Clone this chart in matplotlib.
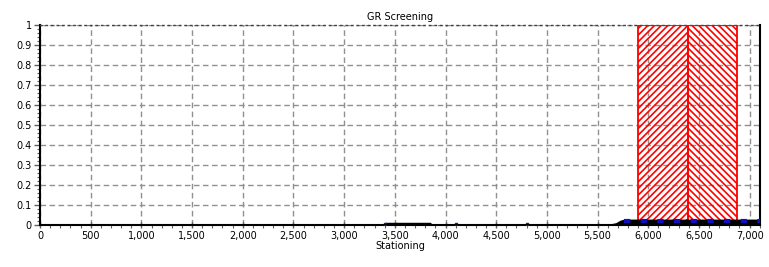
import numpy as np
import matplotlib.pyplot as plt
from matplotlib.ticker import MultipleLocator, FuncFormatter

# screening result along the pipeline
stations = [0, 3380, 3400, 3850, 3870, 5600, 5680, 5720, 5760, 7100]
values = [0.004, 0.004, 0.014, 0.014, 0.004, 0.004, 0.012, 0.024, 0.030, 0.030]

# flagged zones (red hatched)
zone_starts = [5900, 6390]
zone_ends = [6390, 6880]
zone_hatches = ['/////', '\\\\\\\\\\']

# small blue point markers
marker_x = [3400, 4100, 4800]

plt.rcParams['hatch.linewidth'] = 1.2

fig = plt.figure(figsize=(7.69, 2.67), dpi=100)
ax = fig.add_axes([0.052, 0.157, 0.936, 0.749])

for s, e, h in zip(zone_starts, zone_ends, zone_hatches):
    ax.axvspan(s, e, facecolor='none', edgecolor='red', hatch=h, linewidth=1.3, zorder=3)

ax.fill_between(stations, 0, values, color='black', zorder=4, linewidth=0)
ax.plot([5760, 7100], [0.018, 0.018], color='#1010c0', linestyle=(0, (1.5, 2.5)), linewidth=3, zorder=5)
ax.plot(marker_x, [0.006] * len(marker_x), 's', color='#1010c0', markersize=1.5, zorder=5)
ax.axhline(0, color='black', linewidth=2, zorder=6)

ax.set_xlim(0, 7100)
ax.set_ylim(0, 1)
ax.xaxis.set_major_locator(MultipleLocator(500))
ax.xaxis.set_minor_locator(MultipleLocator(100))
ax.yaxis.set_major_locator(MultipleLocator(0.1))
ax.yaxis.set_minor_locator(MultipleLocator(0.02))
ax.xaxis.set_major_formatter(FuncFormatter(lambda v, p: f"{int(v):,}"))
ax.yaxis.set_major_formatter(FuncFormatter(lambda v, p: "0" if v == 0 else ("1" if abs(v - 1) < 1e-9 else f"{v:.1f}")))

ax.grid(True, which='major', color='#909090', linestyle=(0, (4, 2.5)), linewidth=1.0, zorder=2)
ax.set_axisbelow(True)
ax.tick_params(axis='both', which='major', labelsize=7, length=4, width=1, color='#606060', pad=2)
ax.tick_params(axis='both', which='minor', length=2, width=0.8, color='#606060')
ax.tick_params(axis='x', direction='inout')

for side in ['left', 'bottom', 'right']:
    ax.spines[side].set_linewidth(1.5)
ax.spines['top'].set_linewidth(1.0)
ax.spines['top'].set_linestyle((0, (1, 3)))
ax.spines['top'].set_color('#404040')

ax.set_title("GR Screening", fontsize=7, pad=4)
ax.set_xlabel("Stationing", fontsize=7, labelpad=0)

fig.savefig("out.png", dpi=100)
